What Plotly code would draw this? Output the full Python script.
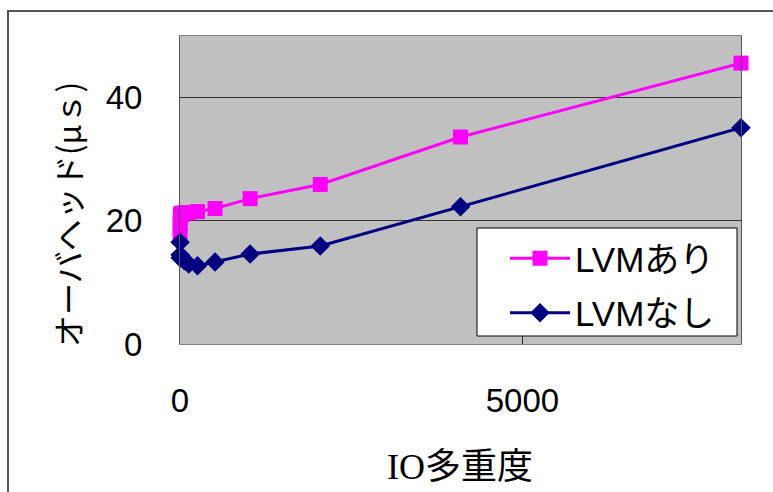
import plotly.graph_objects as go

# IO concurrency levels (x) and measured overhead in microseconds
io_depth = [1, 2, 4, 8, 16, 32, 64, 128, 256, 512, 1024, 2048, 4096, 8192]
with_lvm = [17.8, 19.5, 20.5, 21.0, 21.2, 21.0, 21.3, 21.3, 21.5, 22.0, 23.6, 25.9, 33.6, 45.6]
without_lvm = [16.5, 14.5, 14.0, 14.0, 14.1, 14.0, 13.5, 13.0, 12.7, 13.3, 14.6, 15.9, 22.3, 35.1]

series_names = ["LVMあり", "LVMなし"]
x_ticks = [0, 5000]
y_ticks = [0, 20, 40]

W, H = 773, 492
L, R, T, B = 180, 32, 36, 148
PW, PH = W - L - R, H - T - B

def px_x(p):
    return (p - L) / PW

def px_y(p):
    return (H - B - p) / PH

base_font = "Liberation Sans, Noto Sans CJK JP, sans-serif"

fig = go.Figure()
fig.add_trace(go.Scatter(
    x=io_depth, y=with_lvm, name=series_names[0], mode="lines+markers",
    line=dict(color="#FF00FF", width=3),
    marker=dict(symbol="square", size=15, color="#FF00FF"),
    cliponaxis=False, legendgroup="a",
))
fig.add_trace(go.Scatter(
    x=io_depth, y=without_lvm, name=series_names[1], mode="lines+markers",
    line=dict(color="#000080", width=3),
    marker=dict(symbol="diamond", size=15, color="#000080"),
    cliponaxis=False, legendgroup="b",
))

fig.update_layout(
    width=W, height=H,
    margin=dict(l=L, r=R, t=T, b=B, autoexpand=False),
    paper_bgcolor="white",
    plot_bgcolor="#C0C0C0",
    font=dict(family=base_font, size=33, color="black"),
    showlegend=True,
    legend=dict(
        x=px_x(505), y=px_y(229), xanchor="left", yanchor="top",
        bgcolor="rgba(0,0,0,0)", borderwidth=0,
        font=dict(size=35, family=base_font),
        itemwidth=60, tracegroupgap=6, traceorder="grouped",
    ),
    xaxis=dict(
        range=[0, 8192], tickvals=x_ticks, ticktext=[str(v) for v in x_ticks],
        showgrid=False, zeroline=False,
        showline=True, linecolor="#808080", linewidth=1, mirror=True,
        ticks="inside", ticklen=12, tickcolor="#222222",
        ticklabelstandoff=27,
    ),
    yaxis=dict(
        range=[0, 50], tickvals=y_ticks, ticktext=[str(v) for v in y_ticks],
        showgrid=True, gridcolor="#333333", gridwidth=1, zeroline=False,
        showline=True, linecolor="#555555", linewidth=1, mirror=True,
        ticks="", ticklabelstandoff=30,
    ),
    annotations=[
        dict(text="IO多重度", xref="paper", yref="paper",
             x=px_x(460), y=px_y(467), xanchor="center", yanchor="middle",
             showarrow=False, font=dict(size=36, family="Liberation Serif, Noto Sans CJK JP, serif")),
        dict(text="オーバヘッド(μｓ)", xref="paper", yref="paper",
             x=px_x(67), y=px_y(215), xanchor="center", yanchor="middle",
             textangle=-90, showarrow=False,
             font=dict(size=32, family="Noto Sans CJK JP, sans-serif")),
    ],
    shapes=[
        # outer chart frame
        dict(type="rect", xref="paper", yref="paper",
             x0=px_x(8), x1=px_x(800), y0=px_y(520), y1=px_y(11),
             line=dict(color="#555555", width=2), fillcolor="rgba(0,0,0,0)", layer="below"),
        # legend box
        dict(type="rect", xref="paper", yref="paper",
             x0=px_x(477), x1=px_x(737), y0=px_y(336), y1=px_y(228),
             line=dict(color="black", width=1), fillcolor="white", layer="above"),
    ],
)

fig.write_html("out.html")
